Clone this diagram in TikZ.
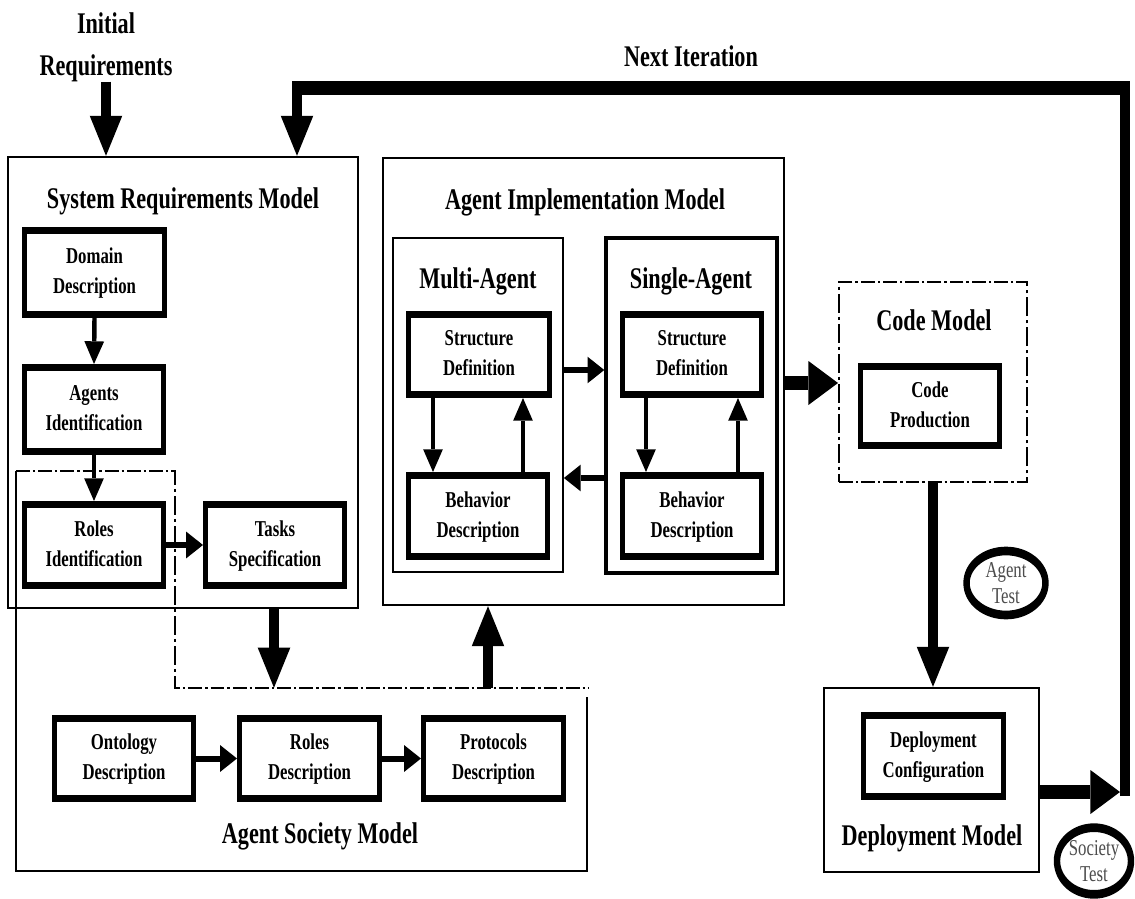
\documentclass[tikz,border=0pt]{standalone}
\usepackage{fontspec}
\setmainfont{Liberation Serif}
\usetikzlibrary{arrows.meta,fit,shapes.geometric}
% two centred lines, vertically centred on their middle
\newcommand\twoline[2]{\begin{tabular}{@{}c@{}}#1\\#2\end{tabular}}
\tikzset{
  container/.style={draw, line width=1.8pt, inner sep=0pt},
  stagebox/.style={draw, line width=5.5pt, inner sep=0pt,
    font=\bfseries\fontsize{17}{22.5}\selectfont},
  % outer width and height of a stage box, in chart units
  boxsize/.style 2 args={minimum width={(#1-5.4)*1.0135pt},
    minimum height={(#2-7.3)*0.75pt}},
  heading/.style={inner sep=0pt, anchor=base, align=center,
    font=\bfseries\fontsize{22.5}{31.5}\selectfont},
  dashdot/.style={line width=2pt, dash pattern=on 14pt off 3pt on 2.5pt off 3pt},
  bigarrow/.style={line width=10pt, line join=miter,
    -{Triangle[length=30pt,width=33pt,line width=0pt]}},
  medarrow/.style={line width=4.5pt, -{Triangle[length=17pt,width=20pt,line width=0pt]}},
  testmark/.style={ellipse, draw, line width=6.5pt, inner sep=0pt, align=center,
    text=black!70, font=\fontsize{17}{20}\selectfont},
}
\begin{document}
\begin{tikzpicture}[x=0.75pt,y=-0.75pt]
\fill[white] (0,0) rectangle (1135,899);
% the whole chart is drawn in a horizontally condensed frame
\begin{scope}[x=1.0135pt, transform canvas={xscale=0.74}]

% guide positions for connectors
\coordinate (srmtoasm) at (274,0);
\coordinate (asmtoaim) at (488,0);
\coordinate (mdown) at (433,0);
\coordinate (mup) at (523,0);
\coordinate (sdown) at (646,0);
\coordinate (supward) at (738,0);
\coordinate (fwdrow) at (0,370);
\coordinate (backrow) at (0,478);
\coordinate (aimrow) at (0,383);
\coordinate (codecol) at (933,0);
\coordinate (deprow) at (0,792);

% Agent Society Model outline (dash-dotted where it overlaps)
\draw[dashdot] (16,471) -- (175,471) -- (175,688) -- (589,688);
\draw[line width=1.8pt] (587,697) -- (587,871) -- (16,871) -- (16,471);
\node[fit={(16,688) (589,871)}, inner sep=0pt] (asm) {};
\node[heading] (asmtitle) at (320,843) {Agent Society Model};

% System Requirements Model
\node[container, fit={(8,157) (358,608)}] (srm) {};
\node[heading] (srmtitle) at (183,208) {System Requirements Model};
\node[stagebox, boxsize={145}{91}] (domain) at (94.5,272.5) {\twoline{Domain}{Description}};
\node[stagebox, boxsize={144}{91}] (agents) at (94,409.5) {\twoline{Agents}{Identification}};
\node[stagebox, boxsize={144}{88}] (rolesid) at (94,545) {\twoline{Roles}{Identification}};
\node[stagebox, boxsize={144}{88}] (tasks) at (275,545) {\twoline{Tasks}{Specification}};

% Agent Society Model stages
\node[stagebox, boxsize={144}{87}] (ontology) at (124,758.5) {\twoline{Ontology}{Description}};
\node[stagebox, boxsize={145}{87}] (rolesdesc) at (309.5,758.5) {\twoline{Roles}{Description}};
\node[stagebox, boxsize={145}{87}] (protocols) at (493.5,758.5) {\twoline{Protocols}{Description}};

% Agent Implementation Model
\node[container, fit={(383,158) (784,605)}] (aim) {};
\node[heading] (aimtitle) at (585,209) {Agent Implementation Model};
\node[container, fit={(393,238) (563,572)}] (multi) {};
\node[heading] (multititle) at (478,288) {Multi-Agent};
\node[container, line width=3.5pt, fit={(606,238) (777,573)}] (single) {};
\node[heading] (singletitle) at (691,288) {Single-Agent};
\node[stagebox, boxsize={146}{87}] (structM) at (479,354.5) {\twoline{Structure}{Definition}};
\node[stagebox, boxsize={144}{88}] (behavM) at (478,516) {\twoline{Behavior}{Description}};
\node[stagebox, boxsize={144}{87}] (structS) at (692,354.5) {\twoline{Structure}{Definition}};
\node[stagebox, boxsize={144}{88}] (behavS) at (692,516) {\twoline{Behavior}{Description}};

% Code Model
\node[dashdot, draw, inner sep=0pt, fit={(839,282) (1027,482)}] (code) {};
\node[heading] (codetitle) at (934,330) {Code Model};
\node[stagebox, boxsize={144}{86}] (codeprod) at (930,406) {\twoline{Code}{Production}};

% Deployment Model
\node[container, fit={(824,688) (1039,872)}] (deploy) {};
\node[heading] (deploytitle) at (932,845) {Deployment Model};
\node[stagebox, boxsize={145}{88}] (deployconf) at (933.5,756) {\twoline{Deployment}{Configuration}};

% tests
\node[testmark, minimum width=80pt, minimum height=48pt] (agenttest) at (1006,583) {Agent\\Test};
\node[testmark, minimum width=75pt, minimum height=50pt] (societytest) at (1094,861) {Society\\Test};

% free labels
\node[heading, anchor=north] (initreq) at (106,12) {Initial\\Requirements};
\node[heading] (nextiter) at (691,67) {Next Iteration};

% iteration loop corners
\coordinate (hit) at (1120,792);
\coordinate (turn) at (1125,796);
\coordinate (ltop) at (1125,88);
\coordinate (lleft) at (297,88);

% connectors inside the models
\draw[medarrow] (domain.south) -- (agents.north);
\draw[medarrow] (agents.south) -- (rolesid.north);
\draw[medarrow] (rolesid.east) -- (tasks.west);
\draw[medarrow] (ontology.east) -- (rolesdesc.west);
\draw[medarrow] (rolesdesc.east) -- (protocols.west);
\draw[medarrow] (structM.south -| mdown) -- (behavM.north -| mdown);
\draw[medarrow] (behavM.north -| mup) -- (structM.south -| mup);
\draw[medarrow] (structS.south -| sdown) -- (behavS.north -| sdown);
\draw[medarrow] (behavS.north -| supward) -- (structS.south -| supward);
\draw[medarrow] (multi.east |- fwdrow) -- (single.west |- fwdrow);
\draw[medarrow] (single.west |- backrow) -- (multi.east |- backrow);

% connectors between models
\draw[bigarrow] (initreq.south) -- (initreq.south |- srm.north);
\draw[bigarrow] (srm.south -| srmtoasm) -- (asm.north -| srmtoasm);
\draw[bigarrow] (asm.north -| asmtoaim) -- (aim.south -| asmtoaim);
\draw[bigarrow] (aim.east |- aimrow) -- (code.west |- aimrow);
\draw[bigarrow] (code.south -| codecol) -- (deploy.north -| codecol);
\draw[bigarrow] (deploy.east |- deprow) -- (hit);
\draw[bigarrow] (turn) -- (ltop) -- (lleft) -- (lleft |- srm.north);

\end{scope}
\pgfresetboundingbox
\useasboundingbox (0,0) rectangle (1135,899);
\end{tikzpicture}
\end{document}
